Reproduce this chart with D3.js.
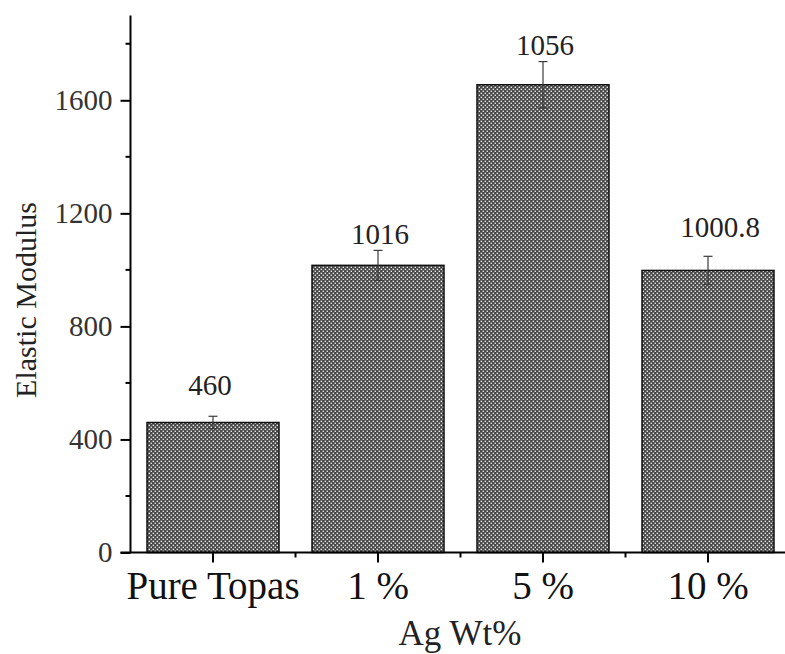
<!DOCTYPE html>
<html>
<head>
<meta charset="utf-8">
<script src="https://cdn.jsdelivr.net/npm/d3@7"></script>
<style>
  html, body { margin: 0; padding: 0; background: #fff; }
  svg { display: block; }
  text { font-family: "Liberation Serif", "Times New Roman", serif; }
</style>
</head>
<body>
<script>
// ---- data ----
const categories = ["Pure Topas", "1 %", "5 %", "10 %"];
const values = [460, 1016, 1655, 998];
const errors = [22, 53, 82, 50];
const valueLabels = ["460", "1016", "1056", "1000.8"];
const labelAt = [559, 1090, 1759, 1115];
const majorTicks = [0, 400, 800, 1200, 1600];
const minorTicks = [200, 600, 1000, 1400, 1800];
const xTitle = "Ag Wt%";
const yTitle = "Elastic Modulus";

const W = 785, H = 654;
const svg = d3.select("body").append("svg").attr("width", W).attr("height", H);

const defs = svg.append("defs");
const pat = defs.append("pattern").attr("id", "hatch")
  .attr("patternUnits", "userSpaceOnUse").attr("width", 4).attr("height", 4);
pat.append("rect").attr("width", 4).attr("height", 4).attr("fill", "#454545");
pat.append("rect").attr("x", 0.6).attr("y", 0.6).attr("width", 1.5).attr("height", 1.5).attr("fill", "#e6e6e6");
pat.append("rect").attr("x", 2.6).attr("y", 2.6).attr("width", 1.5).attr("height", 1.5).attr("fill", "#e6e6e6");

const x0 = 130.5, x1 = 790.5, yBase = 552.5, yTop = 15.5;
const x = d3.scaleBand().domain(categories).range([x0, x1]).paddingInner(0.2).paddingOuter(0.1);
const y = d3.scaleLinear().domain([0, 1900]).range([yBase, yTop]);

// bars
svg.append("g").selectAll("rect").data(categories).join("rect")
  .attr("x", d => x(d))
  .attr("y", (d, i) => y(values[i]))
  .attr("width", x.bandwidth())
  .attr("height", (d, i) => yBase - y(values[i]))
  .attr("fill", "url(#hatch)")
  .attr("stroke", "#111")
  .attr("stroke-width", 1.5);

// error bars
const eg = svg.append("g").attr("stroke", "#3a3a3a").attr("stroke-width", 1.2);
categories.forEach((c, i) => {
  const cx = x(c) + x.bandwidth() / 2;
  eg.append("line").attr("x1", cx).attr("x2", cx)
    .attr("y1", y(values[i] + errors[i])).attr("y2", y(values[i] - errors[i]));
  eg.append("line").attr("x1", cx - 4.5).attr("x2", cx + 4.5)
    .attr("y1", y(values[i] + errors[i])).attr("y2", y(values[i] + errors[i]));
  eg.append("line").attr("x1", cx - 4.5).attr("x2", cx + 4.5)
    .attr("y1", y(values[i] - errors[i])).attr("y2", y(values[i] - errors[i]));
});

// value labels
svg.append("g").selectAll("text").data(categories).join("text")
  .attr("x", (d, i) => x(d) + x.bandwidth() / 2 + (i === 3 ? 12 : (i === 0 ? -3 : 2)))
  .attr("y", (d, i) => y(labelAt[i]))
  .attr("text-anchor", "middle")
  .attr("font-size", 29)
  .attr("fill", "#222")
  .text((d, i) => valueLabels[i]);

// y axis
const yAxis = svg.append("g").attr("transform", `translate(${x0},0)`)
  .call(d3.axisLeft(y).tickValues(majorTicks).tickSize(10).tickPadding(8).tickFormat(d3.format("d")));
yAxis.select(".domain").attr("d", `M0,${yTop}V${yBase}`).attr("stroke", "#000").attr("stroke-width", 2);
yAxis.selectAll(".tick line").attr("stroke", "#000").attr("stroke-width", 2);
yAxis.selectAll(".tick text").attr("font-size", 29).attr("fill", "#333")
  .attr("font-family", "Liberation Serif, serif");
svg.append("g").attr("transform", `translate(${x0},0)`)
  .selectAll("line").data(minorTicks).join("line")
  .attr("x1", -5).attr("x2", 0).attr("y1", d => y(d)).attr("y2", d => y(d))
  .attr("stroke", "#000").attr("stroke-width", 2);

// x axis
const xAxis = svg.append("g").attr("transform", `translate(0,${yBase})`)
  .call(d3.axisBottom(x).tickSize(10).tickPadding(10));
xAxis.select(".domain").attr("d", `M${x0 - 10},0H${W}`).attr("stroke", "#000").attr("stroke-width", 2);
xAxis.selectAll(".tick line").attr("stroke", "#000").attr("stroke-width", 2);
xAxis.selectAll(".tick text").attr("font-size", 39).attr("fill", "#111")
  .attr("font-family", "Liberation Serif, serif").attr("dy", "0.68em");
const step = x.step();
svg.append("g").attr("transform", `translate(0,${yBase})`)
  .selectAll("line").data(categories.slice(1)).join("line")
  .attr("x1", d => x(d) - step * 0.1).attr("x2", d => x(d) - step * 0.1)
  .attr("y1", 0).attr("y2", 5)
  .attr("stroke", "#000").attr("stroke-width", 2);

// axis titles
svg.append("text").attr("x", 460).attr("y", 645).attr("text-anchor", "middle")
  .attr("font-size", 35).attr("fill", "#222").text(xTitle);
svg.append("text").attr("transform", `translate(36,300) rotate(-90)`)
  .attr("text-anchor", "middle").attr("font-size", 30).attr("fill", "#222").text(yTitle);
</script>
</body>
</html>
